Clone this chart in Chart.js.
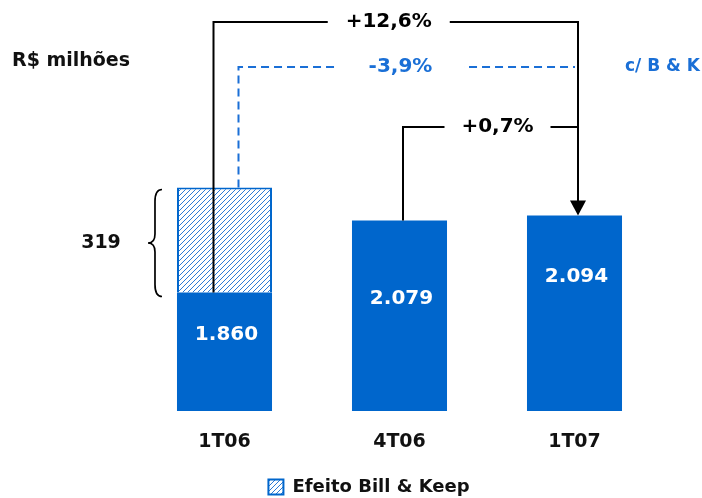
<!DOCTYPE html>
<html><head><meta charset="utf-8">
<script src="https://cdn.jsdelivr.net/npm/chart.js@4/dist/chart.umd.min.js"></script>
<style>html,body{margin:0;padding:0;background:#fff}</style>
</head><body>
<canvas id="c" width="702" height="498"></canvas>
<script>
// ---- data ----
const categories = ['1T06', '4T06', '1T07'];
const receitaBase = [1860, 2079, 2094];
const efeitoBillKeep = [319, 0, 0];
const valueLabels = ['1.860', '2.079', '2.094'];
const variacoes = ['+12,6%', '-3,9%', '+0,7%'];
const billKeepLabel = '319';
const unitLabel = 'R$ milhões';
const billKeepNote = 'c/ B & K';
const legendLabel = 'Efeito Bill & Keep';

// ---- style ----
const BLUE = '#0066CC';
const LBLUE = '#1a6fd6';
const FONT = 'DejaVu Sans';
Chart.defaults.font.family = FONT;

function makeHatch() {
  const s = 5;
  const c = document.createElement('canvas');
  c.width = s; c.height = s;
  const x = c.getContext('2d');
  x.fillStyle = '#fff'; x.fillRect(0, 0, s, s);
  x.strokeStyle = '#2b7ad6'; x.lineWidth = 1.0;
  x.beginPath();
  x.moveTo(0, s); x.lineTo(s, 0);
  x.moveTo(-1, 1); x.lineTo(1, -1);
  x.moveTo(s - 1, s + 1); x.lineTo(s + 1, s - 1);
  x.stroke();
  return x.createPattern(c, 'repeat');
}
const hatch = makeHatch();

const annot = {
  id: 'annot',
  afterDatasetsDraw(chart, args, o) {
    const ctx = chart.ctx, y = chart.scales.y;
    const bars = chart.getDatasetMeta(0).data;
    const xs = bars.map(e => e.x);
    const py = v => y.getPixelForValue(v);
    ctx.save();
    // value labels inside bars
    ctx.fillStyle = '#fff';
    ctx.font = 'bold 20px ' + FONT;
    ctx.textAlign = 'center';
    ctx.textBaseline = 'middle';
    bars.forEach((e, i) => ctx.fillText(valueLabels[i], e.x + 2, e.y + o.labelOffsets[i]));

    const xA = xs[0] - 11, xB = xs[2] + 3.5, xC = xs[0] + 14, xD = xs[1] + 3.5;
    const top1 = py(receitaBase[0] + efeitoBillKeep[0]);
    const yL1 = py(o.levels[0]), yL2 = py(o.levels[1]), yL3 = py(o.levels[2]);
    const yB = py(receitaBase[2]);

    // black arrow 1T06 -> 1T07
    ctx.strokeStyle = '#000'; ctx.lineWidth = 2; ctx.setLineDash([]);
    ctx.beginPath();
    ctx.moveTo(xA, py(receitaBase[0]));
    ctx.lineTo(xA, yL1); ctx.lineTo(xB, yL1); ctx.lineTo(xB, yB - 12);
    ctx.stroke();
    ctx.fillStyle = '#000';
    ctx.beginPath();
    ctx.moveTo(xB - 8, yB - 15); ctx.lineTo(xB + 8, yB - 15); ctx.lineTo(xB, yB); ctx.closePath();
    ctx.fill();

    // black 4T06 -> 1T07
    ctx.beginPath();
    ctx.moveTo(xD, py(receitaBase[1]));
    ctx.lineTo(xD, yL3); ctx.lineTo(xB, yL3);
    ctx.stroke();

    // blue dashed
    ctx.strokeStyle = LBLUE; ctx.lineWidth = 2; ctx.setLineDash([8, 5]);
    ctx.beginPath();
    ctx.moveTo(xC, top1); ctx.lineTo(xC, yL2); ctx.lineTo(xB - 3, yL2);
    ctx.stroke();
    ctx.setLineDash([]);

    // percentage texts with white gaps
    function gapText(txt, cx, cy, half, color, size) {
      ctx.fillStyle = '#fff';
      ctx.fillRect(cx - half, cy - 6, half * 2, 12);
      ctx.fillStyle = color;
      ctx.font = 'bold ' + size + 'px ' + FONT;
      ctx.textAlign = 'center'; ctx.textBaseline = 'middle';
      ctx.fillText(txt, cx, cy);
    }
    gapText(variacoes[0], (xA + xB) / 2 - 7, yL1, 61, '#000', 20);
    gapText(variacoes[1], xs[1] + 1, yL2, 64, LBLUE, 20);
    gapText(variacoes[2], (xD + xB) / 2 + 7, yL3, 53, '#000', 20);

    // c/ B & K
    ctx.fillStyle = LBLUE; ctx.font = 'bold 17px ' + FONT;
    ctx.textAlign = 'left'; ctx.textBaseline = 'middle';
    ctx.fillText(billKeepNote, xB + 47, yL2);

    // unit
    ctx.fillStyle = '#111'; ctx.font = 'bold 19px ' + FONT;
    ctx.fillText(unitLabel, 12, 61);

    // brace + 319
    const bl = bars[0];
    const left = bl.x - bl.width / 2;
    const by0 = top1 + 2, by1 = py(receitaBase[0]) + 4, bm = (by0 + by1) / 2;
    const bx = left - 15, bw = 7;
    ctx.strokeStyle = '#000'; ctx.lineWidth = 1.7;
    ctx.beginPath();
    ctx.moveTo(bx, by0);
    ctx.quadraticCurveTo(bx - bw, by0, bx - bw, by0 + 12);
    ctx.lineTo(bx - bw, bm - 9);
    ctx.quadraticCurveTo(bx - bw, bm, bx - 2 * bw, bm);
    ctx.quadraticCurveTo(bx - bw, bm, bx - bw, bm + 9);
    ctx.lineTo(bx - bw, by1 - 12);
    ctx.quadraticCurveTo(bx - bw, by1, bx, by1);
    ctx.stroke();
    ctx.fillStyle = '#111'; ctx.font = 'bold 19px ' + FONT;
    ctx.textAlign = 'center';
    ctx.fillText(billKeepLabel, left - 76, bm);
    ctx.restore();
  }
};

const hiddenAxis = (pos, w) => ({
  position: pos, display: true, min: 1500, max: 2700, stacked: true,
  ticks: { display: false }, grid: { display: false, drawTicks: false }, border: { display: false },
  afterFit: s => { s.width = w; }
});

new Chart(document.getElementById('c'), {
  type: 'bar',
  data: {
    labels: categories,
    datasets: [
      { label: 'Receita', data: receitaBase, backgroundColor: BLUE, borderWidth: 0, yAxisID: 'y' },
      { label: legendLabel, data: efeitoBillKeep, backgroundColor: hatch, borderColor: BLUE, borderWidth: 2, yAxisID: 'y' }
    ]
  },
  options: {
    responsive: false,
    animation: false,
    layout: { padding: { left: 36, right: 0, top: 16, bottom: -8 } },
    datasets: { bar: { categoryPercentage: 1, barPercentage: 0.543 } },
    scales: {
      x: {
        stacked: true,
        grid: { display: false, drawTicks: false }, border: { display: false },
        ticks: { color: '#111', font: { family: FONT, size: 19, weight: 'bold' }, padding: 20 },
        afterFit: s => { s.height = 63; }
      },
      y: hiddenAxis('left', 101),
      yR: hiddenAxis('right', 40)
    },
    plugins: {
      tooltip: { enabled: false },
      legend: {
        position: 'bottom',
        labels: {
          filter: item => item.datasetIndex === 1,
          color: '#111', font: { family: FONT, size: 18, weight: 'bold' },
          boxWidth: 15, boxHeight: 15, padding: 4
        }
      },
      annot: { labelOffsets: [42, 78, 61], levels: [2682, 2545, 2363] }
    }
  },
  plugins: [annot]
});
</script>
</body></html>
